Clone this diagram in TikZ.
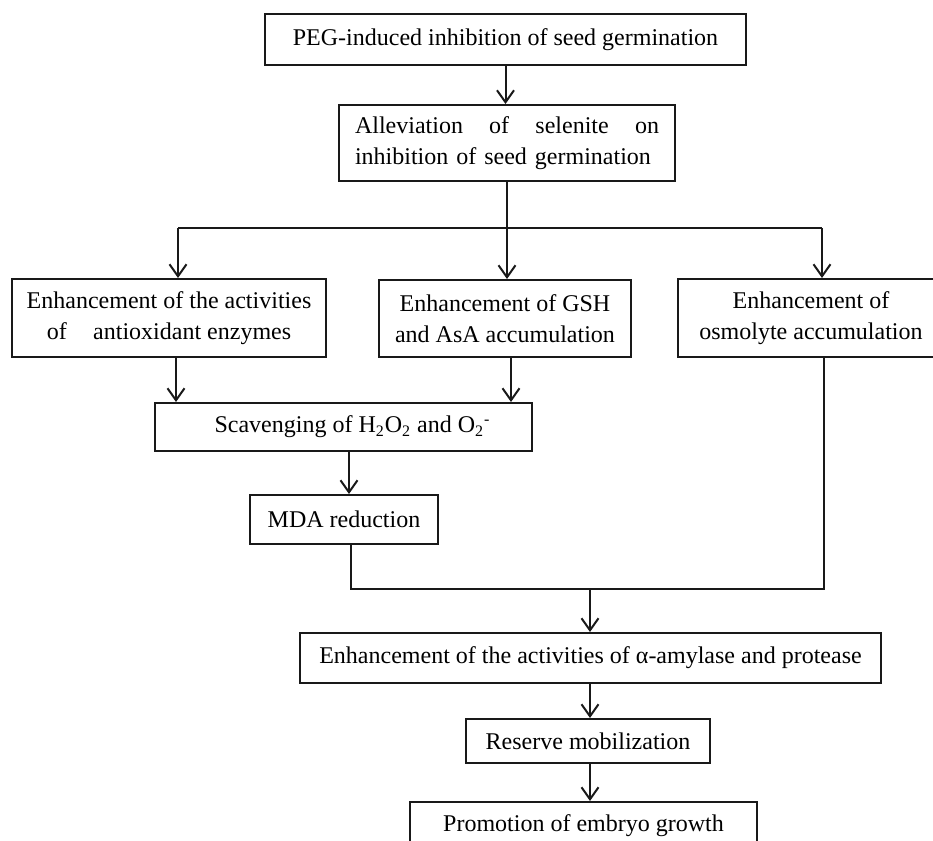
\documentclass[tikz,border=0pt]{standalone}
\usepackage{fontspec}
\setmainfont{Liberation Serif}
\usetikzlibrary{arrows.meta}
\begin{document}
\begin{tikzpicture}[x=0.5pt,y=-0.5pt,
  box/.style={draw=black!90, line width=1pt, rectangle, inner sep=0pt, align=center,
    font=\fontsize{12}{15.2}\selectfont},
  conn/.style={draw=black!90, line width=1pt},
  arr/.style={conn, -{Straight Barb[length=6pt,width=8.5pt,line width=1pt]}}]
\useasboundingbox (0,0) rectangle (933,841);
% boxes
\node[box, minimum width=240.5pt, minimum height=25.5pt] (b1) at (505.5,39.5) {PEG-induced inhibition of seed germination};
\node[box, minimum width=168pt, minimum height=38pt, text width=152pt, align=left] (b2) at (507,143)
  {\makebox[152pt][l]{Alleviation\hfill of\hfill selenite\hfill on}\\inhibition of seed germination};
\node[box, minimum width=157pt, minimum height=39pt] (b3) at (169,318) {Enhancement of the activities\\of\hspace{1.1em}antioxidant enzymes};
\node[box, minimum width=126pt, minimum height=38.5pt] (b4) at (505,318.5) {Enhancement of GSH\\and AsA accumulation};
\node[box, minimum width=133pt, minimum height=39pt] (b5) at (811,318) {Enhancement of\\osmolyte accumulation};
\node[box, minimum width=188.5pt, minimum height=24pt] (scav) at (343.5,427) {\hspace*{9pt}Scavenging of H\textsubscript{2}O\textsubscript{2} and O\textsubscript{2}\textsuperscript{-}};
\node[box, minimum width=94pt, minimum height=24.5pt] (mda) at (344,519.5) {MDA reduction};
\node[box, minimum width=290.5pt, minimum height=25pt] (alpha) at (590.5,658) {Enhancement of the activities of α-amylase and protease};
\node[box, minimum width=122pt, minimum height=22pt] (res) at (588,741) {Reserve mobilization};
\node[box, minimum width=173.5pt, minimum height=23.5pt] (promo) at (583.5,825.5) {Promotion of embryo growth};
% helper coordinates
\coordinate (hL) at (178,228);
\coordinate (hM) at (507,228);
\coordinate (hR) at (822,228);
\coordinate (xL) at (176,0);
\coordinate (xM) at (511,0);
\coordinate (xS) at (349,0);
\coordinate (jL) at (351,589);
\coordinate (jR) at (824,589);
\coordinate (jM) at (590,589);
% connectors
\draw[arr] (b1.south) -- (b1.south |- b2.north);
\draw[conn] (b2.south) -- (hM);
\draw[conn] (hL) -- (hR);
\draw[arr] (hL) -- (hL |- b3.north);
\draw[arr] (hM) -- (hM |- b4.north);
\draw[arr] (hR) -- (hR |- b5.north);
\draw[arr] (b3.south -| xL) -- (scav.north -| xL);
\draw[arr] (b4.south -| xM) -- (scav.north -| xM);
\draw[arr] (scav.south -| xS) -- (mda.north -| xS);
\draw[conn] (mda.south -| jL) -- (jL) -- (jR) -- (b5.south -| jR);
\draw[arr] (jM) -- (jM |- alpha.north);
\draw[arr] (alpha.south -| jM) -- (res.north -| jM);
\draw[arr] (res.south -| jM) -- (promo.north -| jM);
\end{tikzpicture}
\end{document}
